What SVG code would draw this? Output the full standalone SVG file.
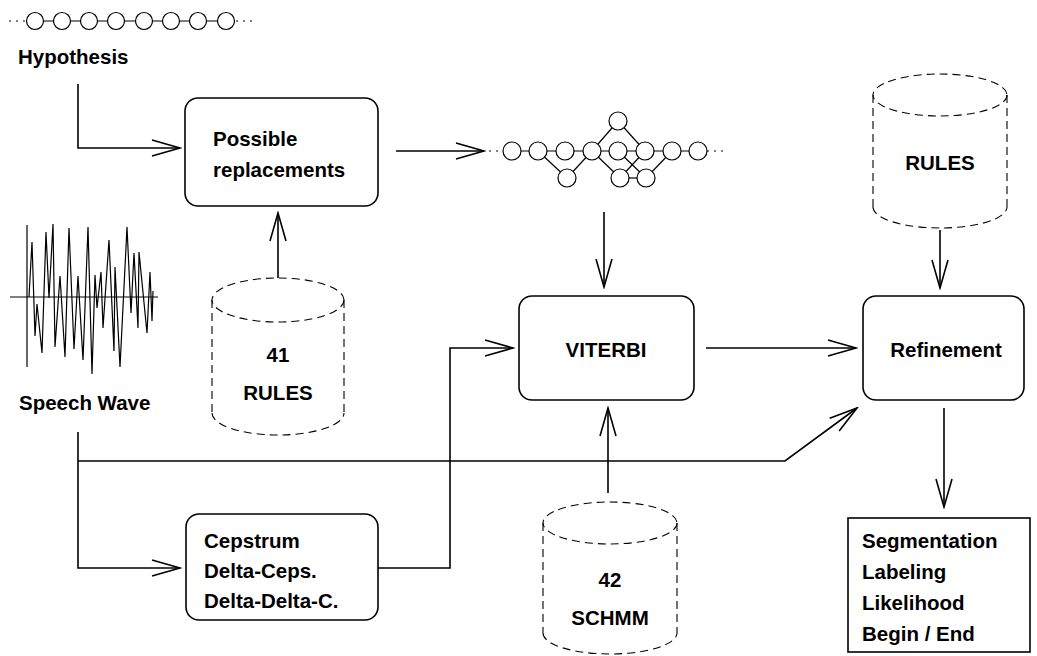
<svg xmlns="http://www.w3.org/2000/svg" width="1037" height="656" viewBox="0 0 1037 656">
<style>
.t{font-family:"Liberation Sans",Arial,sans-serif;font-weight:bold;font-size:20.5px;fill:#000}
.m{text-anchor:middle}
.box{fill:#fff;stroke:#000;stroke-width:1.6}
.cyl{fill:none;stroke:#000;stroke-width:1.1;stroke-dasharray:8 5}
.ln{fill:none;stroke:#000;stroke-width:1.6}
.ar{fill:none;stroke:#000;stroke-width:1.6;marker-end:url(#ah)}
.c{fill:#fff;stroke:#000;stroke-width:1.2}
.e{stroke:#000;stroke-width:1.2}
.d{stroke:#000;stroke-width:1.2;stroke-dasharray:2 5}
</style>
<defs>
<marker id="ah" markerUnits="userSpaceOnUse" markerWidth="32" markerHeight="20" viewBox="0 0 32 20" refX="30" refY="10" orient="auto">
<path d="M2,2 L30,10 L2,18" fill="none" stroke="#000" stroke-width="1.6"/>
</marker>
</defs>

<g id="hypothesis">
<line class="d" x1="9" y1="21" x2="26" y2="21"/>
<line class="e" x1="35" y1="21" x2="226" y2="21"/>
<line class="d" x1="236" y1="21" x2="252" y2="21"/>
<circle class="c" cx="35" cy="21" r="8.5"/>
<circle class="c" cx="62" cy="21" r="8.5"/>
<circle class="c" cx="89" cy="21" r="8.5"/>
<circle class="c" cx="116" cy="21" r="8.5"/>
<circle class="c" cx="144" cy="21" r="8.5"/>
<circle class="c" cx="171" cy="21" r="8.5"/>
<circle class="c" cx="198" cy="21" r="8.5"/>
<circle class="c" cx="226" cy="21" r="8.5"/>
<text class="t" x="18" y="64">Hypothesis</text>
</g>

<g id="lattice">
<line class="d" x1="489" y1="151" x2="504" y2="151"/>
<line class="d" x1="707" y1="151" x2="723" y2="151"/>
<line class="e" x1="512" y1="151" x2="698" y2="151"/>
<line class="e" x1="538" y1="151" x2="567" y2="178"/>
<line class="e" x1="567" y1="178" x2="592" y2="151"/>
<line class="e" x1="592" y1="151" x2="618" y2="121"/>
<line class="e" x1="618" y1="121" x2="645" y2="151"/>
<line class="e" x1="592" y1="151" x2="620" y2="178"/>
<line class="e" x1="618" y1="151" x2="646" y2="178"/>
<line class="e" x1="645" y1="151" x2="620" y2="178"/>
<line class="e" x1="620" y1="178" x2="646" y2="178"/>
<line class="e" x1="646" y1="178" x2="672" y2="151"/>
<circle class="c" cx="512" cy="151" r="9"/>
<circle class="c" cx="538" cy="151" r="9"/>
<circle class="c" cx="565" cy="151" r="9"/>
<circle class="c" cx="592" cy="151" r="9"/>
<circle class="c" cx="618" cy="151" r="9"/>
<circle class="c" cx="645" cy="151" r="9"/>
<circle class="c" cx="672" cy="151" r="9"/>
<circle class="c" cx="698" cy="151" r="9"/>
<circle class="c" cx="618" cy="121" r="9"/>
<circle class="c" cx="567" cy="178" r="9"/>
<circle class="c" cx="620" cy="178" r="9"/>
<circle class="c" cx="646" cy="178" r="9"/>
</g>

<g id="speechwave">
<line class="e" x1="10" y1="297" x2="158" y2="297"/>
<line class="e" x1="27" y1="225" x2="27" y2="367"/>
<polyline fill="none" stroke="#000" stroke-width="1.2" stroke-linejoin="miter" points="29,297 32,242 35,336 37,304 42,353 46,232 49,298 53,224 55,347 60,276 65,357 69,228 74,349 78,276 83,360 88,227 92,374 95,275 97,308 101,272 103,328 109,240 114,351 115,267 120,367 127,227 131,313 134,253 138,328 139,252 147,333 150,272 152,321 153,291"/>
<text class="t" x="19" y="410">Speech Wave</text>
</g>

<g id="replacements">
<rect class="box" x="185" y="98" width="193" height="108" rx="13"/>
<text class="t" x="213" y="146">Possible</text>
<text class="t" x="213" y="177">replacements</text>
</g>

<g id="viterbi">
<rect class="box" x="519" y="296" width="175" height="104" rx="13"/>
<text class="t m" x="606" y="357">VITERBI</text>
</g>

<g id="refinement">
<rect class="box" x="863" y="296" width="161" height="104" rx="13"/>
<text class="t m" x="946" y="357">Refinement</text>
</g>

<g id="cepstrum">
<rect class="box" x="186" y="514" width="192" height="106" rx="13"/>
<text class="t" x="204" y="548">Cepstrum</text>
<text class="t" x="204" y="578">Delta-Ceps.</text>
<text class="t" x="204" y="608">Delta-Delta-C.</text>
</g>

<g id="output">
<rect class="box" x="848" y="518" width="182" height="134"/>
<text class="t" x="862" y="548">Segmentation</text>
<text class="t" x="862" y="579">Labeling</text>
<text class="t" x="862" y="610">Likelihood</text>
<text class="t" x="862" y="641">Begin / End</text>
</g>

<g id="rules41">
<ellipse class="cyl" cx="278" cy="300" rx="66" ry="22"/>
<line class="cyl" x1="212" y1="300" x2="212" y2="413"/>
<line class="cyl" x1="344" y1="300" x2="344" y2="413"/>
<path class="cyl" d="M212,413 A66,22 0 0 0 344,413"/>
<text class="t m" x="278" y="362">41</text>
<text class="t m" x="278" y="400">RULES</text>
</g>

<g id="schmm42">
<ellipse class="cyl" cx="610" cy="523" rx="67" ry="21"/>
<line class="cyl" x1="543" y1="523" x2="543" y2="633"/>
<line class="cyl" x1="677" y1="523" x2="677" y2="633"/>
<path class="cyl" d="M543,633 A67,21 0 0 0 677,633"/>
<text class="t m" x="610" y="587">42</text>
<text class="t m" x="610" y="625">SCHMM</text>
</g>

<g id="rules">
<ellipse class="cyl" cx="940" cy="95" rx="67" ry="21"/>
<line class="cyl" x1="873" y1="95" x2="873" y2="207"/>
<line class="cyl" x1="1007" y1="95" x2="1007" y2="207"/>
<path class="cyl" d="M873,207 A67,21 0 0 0 1007,207"/>
<text class="t m" x="940" y="170">RULES</text>
</g>

<g id="connectors">
<polyline class="ar" points="78,84 78,148 180,148"/>
<line class="ar" x1="396" y1="151" x2="484" y2="151"/>
<line class="ar" x1="278" y1="278" x2="278" y2="213"/>
<line class="ar" x1="604" y1="212" x2="604" y2="287"/>
<polyline class="ar" points="378,568 450,568 450,348 513,348"/>
<line class="ar" x1="706" y1="348" x2="856" y2="348"/>
<line class="ar" x1="608" y1="493" x2="608" y2="408"/>
<polyline class="ar" points="78,432 78,568 180,568"/>
<polyline class="ar" points="78,461 785,461 857,408"/>
<line class="ar" x1="940" y1="230" x2="940" y2="288"/>
<line class="ar" x1="944" y1="408" x2="944" y2="507"/>
</g>
</svg>
